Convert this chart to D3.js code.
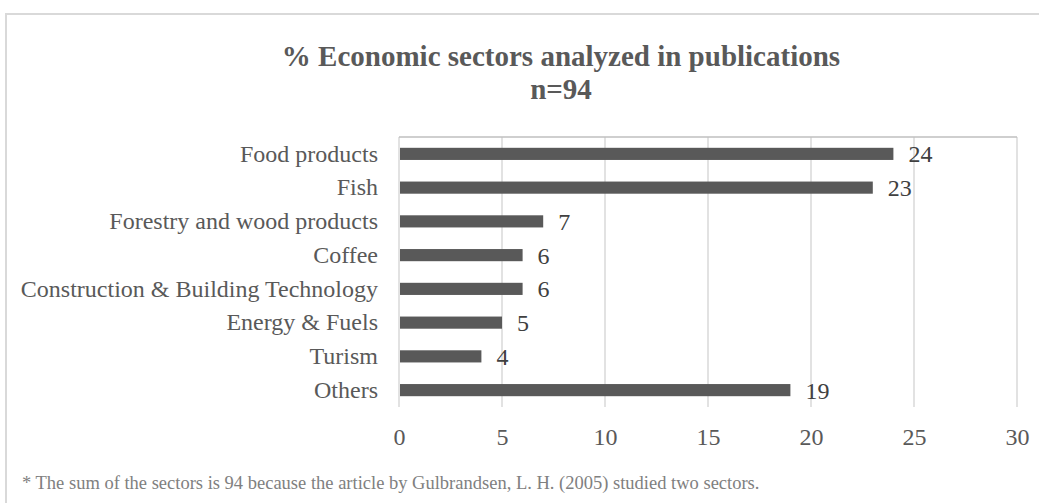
<!doctype html>
<html>
<head>
<meta charset="UTF-8">
<script src="https://d3js.org/d3.v7.min.js"></script>
<style>
  body { margin: 0; background: #fff; }
  text { font-family: "Liberation Serif", "Times New Roman", serif; }
</style>
</head>
<body>
<svg width="1039" height="503"></svg>
<script>
var sectors = ["Food products", "Fish", "Forestry and wood products", "Coffee",
  "Construction & Building Technology", "Energy & Fuels", "Turism", "Others"];
var values = [24, 23, 7, 6, 6, 5, 4, 19];
var ticks = [0, 5, 10, 15, 20, 25, 30];

var svg = d3.select("svg");
var pLeft = 399, pRight = 1017, pTop = 137, pBottom = 407;

// outer frame
svg.append("path")
  .attr("d", "M6,503 V14 H1039")
  .attr("fill", "none").attr("stroke", "#d9d9d9").attr("stroke-width", 2);

var x = d3.scaleLinear().domain([0, 30]).range([pLeft, pRight]);
var y = d3.scaleBand().domain(sectors).range([pTop, pBottom]).paddingInner(0.64).paddingOuter(0.32);

// gridlines
svg.selectAll("line.grid").data(ticks).enter().append("line")
  .attr("x1", function (d) { return x(d); })
  .attr("x2", function (d) { return x(d); })
  .attr("y1", pTop).attr("y2", pBottom)
  .attr("stroke", "#d9d9d9").attr("stroke-width", 1.5);
svg.append("line").attr("x1", pLeft).attr("x2", pRight).attr("y1", pTop).attr("y2", pTop)
  .attr("stroke", "#bfbfbf").attr("stroke-width", 1.5);

// bars
svg.selectAll("rect.bar").data(values).enter().append("rect")
  .attr("x", x(0) + 1)
  .attr("y", function (d, i) { return y(sectors[i]); })
  .attr("width", function (d) { return x(d) - x(0) - 1; })
  .attr("height", y.bandwidth())
  .attr("fill", "#595959");

// value labels
svg.selectAll("text.val").data(values).enter().append("text")
  .attr("x", function (d) { return x(d) + 15; })
  .attr("y", function (d, i) { return y(sectors[i]) + y.bandwidth() / 2; })
  .attr("dy", "0.35em")
  .attr("font-size", 24).attr("fill", "#404040")
  .text(function (d) { return d; });

// category axis
var yAxis = d3.axisLeft(y).tickSize(0).tickPadding(21);
var gy = svg.append("g").attr("transform", "translate(" + pLeft + ",0)").call(yAxis);
gy.select(".domain").remove();
gy.selectAll("text").attr("font-size", 24).attr("fill", "#595959")
  .attr("font-family", "Liberation Serif");

// value axis
var xAxis = d3.axisBottom(x).tickValues(ticks).tickSize(0).tickPadding(21);
var gx = svg.append("g").attr("transform", "translate(0," + pBottom + ")").call(xAxis);
gx.select(".domain").remove();
gx.selectAll("text").attr("font-size", 24).attr("fill", "#595959")
  .attr("font-family", "Liberation Serif");

// title
var title = svg.append("text").attr("x", 561).attr("text-anchor", "middle")
  .attr("font-size", 29).attr("font-weight", "bold").attr("fill", "#595959");
title.append("tspan").attr("x", 561).attr("y", 66).text("% Economic sectors analyzed in publications");
title.append("tspan").attr("x", 561).attr("y", 99).text("n=94");

// footnote
svg.append("text").attr("x", 22).attr("y", 489)
  .attr("font-size", 18.5).attr("fill", "#808080")
  .text("* The sum of the sectors is 94 because the article by Gulbrandsen, L. H. (2005) studied two sectors.");
</script>
</body>
</html>
